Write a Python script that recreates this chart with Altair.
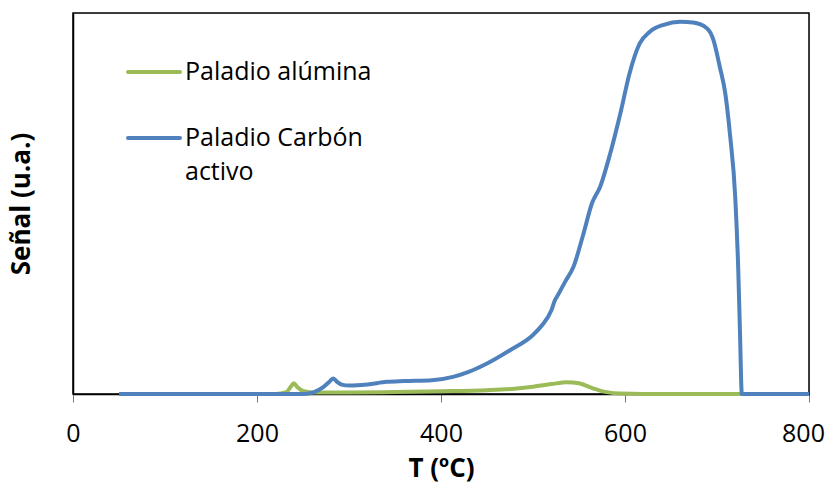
import altair as alt
import pandas as pd

# Paladio Carbón activo
blue_t = [50, 200, 250, 262, 272, 279, 283, 287, 293, 300, 320, 341, 360, 390, 413, 430, 450, 475,
          500, 510, 520, 524, 526, 535, 544, 555, 564, 573, 584, 595, 605, 616, 627, 642, 660, 674,
          689, 696, 703, 709, 714, 720, 723, 725, 727, 800]
blue_v = [0, 0, 0, 0.5, 1.8, 3.3, 4.1, 3.2, 2.4, 2.2, 2.5, 3.2, 3.4, 3.6, 4.5, 5.8, 8.0, 11.5,
          15.5, 18.1, 22.0, 24.7, 25.5, 29.5, 33.4, 42.2, 50.0, 54.4, 63.2, 73.7, 84.2, 92.0, 95.1, 96.9, 97.7, 97.5,
          96.0, 93.0, 85.9, 78.9, 68.4, 50.9, 33.4, 16.0, 0, 0]

# Paladio alúmina
green_t = [50, 220, 232, 237, 240, 244, 250, 260, 300, 350, 400, 450, 480, 500, 520, 537, 550,
           565, 580, 595, 620, 725]
green_v = [0, 0, 0.5, 2.0, 2.8, 1.8, 0.8, 0.4, 0.4, 0.5, 0.7, 1.0, 1.4, 1.9, 2.6, 3.1, 2.8,
           1.5, 0.5, 0.1, 0, 0]

series_names = ["Paladio alúmina", "Paladio Carbón activo"]
series_colors = ["#9BBB59", "#4F81BD"]

df = pd.concat([
    pd.DataFrame({"T": green_t, "S": green_v, "serie": series_names[0], "o": 0}),
    pd.DataFrame({"T": blue_t, "S": blue_v, "serie": series_names[1], "o": 1}),
])

FONT = "Open Sans"

x = alt.X("T:Q", scale=alt.Scale(domain=[0, 800], nice=False),
          axis=alt.Axis(values=[0, 200, 400, 600, 800], title="T (ºC)", grid=False,
                        labelFont=FONT, labelFontSize=25, labelColor="#000", labelFlush=False,
                        labelOffset={"condition": {"test": "datum.value == 800", "value": -6}, "value": 0},
                        titleFont=FONT, titleFontSize=26, titleFontWeight="bold", titleColor="#000",
                        domainColor="#000", domainWidth=1.5, tickColor="#777", tickSize=8,
                        labelPadding=19, titlePadding=9))
y = alt.Y("S:Q", scale=alt.Scale(domain=[0, 100], nice=False),
          axis=alt.Axis(title="Señal (u.a.)", labels=False, ticks=False, grid=False,
                        titleFont=FONT, titleFontSize=26, titleFontWeight="bold", titleColor="#000",
                        domainColor="#000", domainWidth=1.5, titlePadding=39))

frame = alt.Chart().mark_rect(fill=None, stroke="#000", strokeWidth=1.5).encode(
    x=alt.value(0), x2=alt.value(736), y=alt.value(0), y2=alt.value(381))

lines = alt.Chart(df).mark_line(strokeWidth=4, interpolate="monotone").encode(
    x=x, y=y,
    color=alt.Color("serie:N", scale=alt.Scale(domain=series_names, range=series_colors), legend=None),
    order=alt.Order("o:Q"),
    detail="serie:N",
)

leg1 = alt.Chart().mark_rule(strokeWidth=4, color=series_colors[0], strokeCap="round").encode(
    x=alt.value(55), x2=alt.value(107), y=alt.value(59))
leg2 = alt.Chart().mark_rule(strokeWidth=4, color=series_colors[1], strokeCap="round").encode(
    x=alt.value(55), x2=alt.value(107), y=alt.value(125))
txt_style = dict(font=FONT, fontSize=25, align="left", baseline="middle", color="#000")
t1 = alt.Chart().mark_text(**txt_style).encode(x=alt.value(112), y=alt.value(59), text=alt.value(series_names[0]))
t2 = alt.Chart().mark_text(**txt_style).encode(x=alt.value(112), y=alt.value(125), text=alt.value("Paladio Carbón"))
t3 = alt.Chart().mark_text(**txt_style).encode(x=alt.value(112), y=alt.value(159), text=alt.value("activo"))

chart = alt.layer(frame, lines, leg1, leg2, t1, t2, t3).properties(
    width=736, height=381,
    autosize=alt.AutoSizeParams(type="none"),
    padding={"left": 65, "top": 5, "right": 17, "bottom": 88},
).configure_view(stroke="#000", strokeWidth=1.5).configure(background="white")

chart.save("out.html", embed_options={"renderer": "svg", "actions": False})
